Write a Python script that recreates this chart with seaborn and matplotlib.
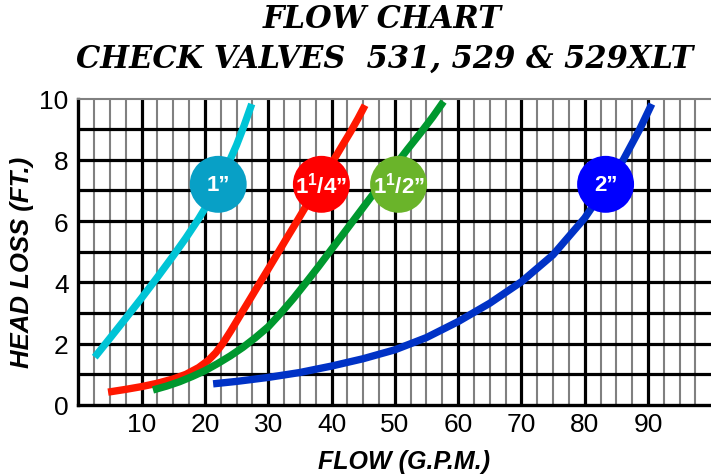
import matplotlib
matplotlib.use("Agg")
import matplotlib.pyplot as plt
import seaborn as sns
import pandas as pd

sns.set_style("white")
plt.rcParams['font.family'] = ['Liberation Sans', 'DejaVu Sans']
plt.rcParams['text.color'] = 'black'
plt.rcParams['mathtext.fontset'] = 'custom'
plt.rcParams['mathtext.bf'] = 'Liberation Sans:bold'
plt.rcParams['mathtext.rm'] = 'Liberation Sans:bold'

# Head loss (ft) against flow (GPM) for each valve size
flow_1in = [2.6, 5, 7.5, 10, 12.5, 15, 17, 19, 20.5, 22, 23.5, 25, 26.2, 27.4]
loss_1in = [1.56, 2.18, 2.83, 3.49, 4.17, 4.87, 5.45, 6.07, 6.58, 7.15,
            7.78, 8.48, 9.12, 9.82]

flow_1_25in = [4.7, 7.5, 10, 12.5, 15, 17, 19, 20.5, 21.7, 22.8, 24.1,
               25.5, 27, 28.4, 29.9, 31.3, 32.8, 34.3, 35.8, 37.2, 38.7,
               40.1, 41.6, 43.0, 44.2, 45.3]
loss_1_25in = [0.42, 0.51, 0.6, 0.71, 0.85, 1.0, 1.22, 1.45, 1.7, 2.0, 2.42,
               2.9, 3.41, 3.89, 4.4, 4.88, 5.4, 5.91, 6.43, 6.91, 7.43,
               7.91, 8.43, 8.91, 9.35, 9.78]

flow_1_5in = [11.8, 14, 16, 18, 20, 22, 24, 26, 28, 30, 32, 34, 36, 38,
              40, 42, 44, 46, 48, 50, 52, 54, 56, 57.7]
loss_1_5in = [0.49, 0.62, 0.76, 0.93, 1.12, 1.35, 1.6, 1.88, 2.2, 2.55,
              3.0, 3.48, 4.0, 4.53, 5.08, 5.62, 6.17, 6.72, 7.26, 7.8,
              8.34, 8.86, 9.4, 9.9]

flow_2in = [21.3, 25, 30, 35, 40, 45, 50, 55, 60, 65, 70, 75, 80, 83.3,
            86.1, 88.7, 90.6]
loss_2in = [0.69, 0.77, 0.9, 1.06, 1.27, 1.51, 1.8, 2.2, 2.72, 3.32, 4.02,
            4.9, 6.1, 7.1, 8.0, 9.0, 9.82]

size_labels = ['1\u201d', '1$^{\\mathbf{1}}$/4\u201d', '1$^{\\mathbf{1}}$/2\u201d', '2\u201d']
badge_flow = [22.1, 38.4, 50.6, 83.3]
badge_loss = [7.2, 7.2, 7.2, 7.2]

line_colors = ['#00C4D6', '#FF1800', '#00982E', '#0032C6']
badge_colors = ['#08A0C6', '#FF0000', '#6AB42A', '#0000FF']

x_ticks = [10, 20, 30, 40, 50, 60, 70, 80, 90]
y_ticks = [0, 2, 4, 6, 8, 10]

fig = plt.figure(figsize=(7.11, 4.77), dpi=100)
ax = fig.add_axes([78.3 / 711, 71 / 477, 633 / 711, 306.5 / 477])
ax.set_xlim(0, 100)
ax.set_ylim(0, 10)

# chart grid: fine grey verticals, heavy black verticals every 10 GPM,
# heavy black horizontals every foot
for gx in [i * 2.5 for i in range(1, 40)]:
    if gx % 10:
        ax.axvline(gx, color='#808080', lw=1.5, zorder=1)
for gx in x_ticks:
    ax.axvline(gx, color='black', lw=2.3, zorder=1.5)
for gy in range(1, 10):
    ax.axhline(gy, color='black', lw=2.3, zorder=1.5)

series = [
    (flow_1in, loss_1in, line_colors[0]),
    (flow_1_25in, loss_1_25in, line_colors[1]),
    (flow_1_5in, loss_1_5in, line_colors[2]),
    (flow_2in, loss_2in, line_colors[3]),
]
for flow, loss, col in series:
    df = pd.DataFrame({'flow': flow, 'loss': loss})
    sns.lineplot(data=df, x='flow', y='loss', sort=False, estimator=None,
                 color=col, lw=5.3, ax=ax, zorder=3,
                 solid_capstyle='butt', solid_joinstyle='round')

ax.scatter(badge_flow, badge_loss, s=41 ** 2, c=badge_colors,
           linewidths=0, zorder=5)
for fx, fy, lab in zip(badge_flow, badge_loss, size_labels):
    ax.text(fx, fy, lab, color='white', fontsize=16, fontweight='bold',
            ha='center', va='center', zorder=6)

ax.set_xticks(x_ticks)
ax.set_yticks(y_ticks)
ax.set_xticklabels([str(v) for v in x_ticks])
ax.set_yticklabels([str(v) for v in y_ticks])
ax.tick_params(axis='both', length=0, labelsize=19, colors='black')
ax.tick_params(axis='x', pad=5)
ax.tick_params(axis='y', pad=7)
ax.set_xlabel('')
ax.set_ylabel('')

for side in ['left', 'bottom']:
    ax.spines[side].set_color('black')
    ax.spines[side].set_linewidth(2.4)
ax.spines['top'].set_color('#808080')
ax.spines['top'].set_linewidth(1.5)
ax.spines['right'].set_visible(False)

fig.text(404 / 711, 1 - 462 / 477, 'FLOW (G.P.M.)', fontsize=18,
         fontweight='bold', style='italic', ha='center', va='center',
         color='black')
fig.text(22.5 / 711, 1 - 262 / 477, 'HEAD LOSS (FT.)', fontsize=18.5,
         fontweight='bold', style='italic', rotation=90,
         ha='center', va='center', color='black')

title_font = dict(family='DejaVu Serif', fontweight='bold', style='italic',
                  fontsize=22, ha='center', va='center', color='black')
fig.text(382 / 711, 1 - 20 / 477, 'FLOW CHART', **title_font)
fig.text(385 / 711, 1 - 59 / 477, 'CHECK VALVES  531, 529 & 529XLT', **title_font)

fig.savefig('out.png', dpi=100)
